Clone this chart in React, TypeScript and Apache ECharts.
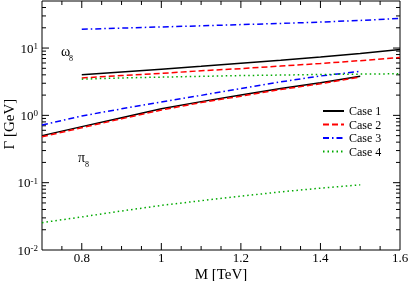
import React, { useEffect, useRef } from "react";
import * as echarts from "echarts";

const M_OMEGA = [0.8, 0.9, 1.0, 1.1, 1.2, 1.3, 1.4, 1.5, 1.6];
const M_PI = [0.7, 0.8, 0.9, 1.0, 1.1, 1.2, 1.3, 1.4, 1.5];

const case1Omega = [4.0, 4.4, 4.85, 5.35, 5.95, 6.6, 7.35, 8.3, 9.5];
const case2Omega = [3.6, 3.9, 4.2, 4.6, 4.95, 5.4, 5.9, 6.5, 7.25];
const case3Omega = [19.0, 19.8, 20.6, 21.4, 22.3, 23.2, 24.3, 25.7, 27.6];
const case4Omega = [3.45, 3.6, 3.7, 3.8, 3.9, 3.97, 4.05, 4.1, 4.15];

const case1Pi = [0.5, 0.68, 0.92, 1.25, 1.6, 2.0, 2.5, 3.05, 3.8];
const case2Pi = [0.48, 0.655, 0.89, 1.2, 1.55, 1.93, 2.42, 2.95, 3.7];
const case3Pi = [0.72, 0.98, 1.25, 1.58, 1.98, 2.5, 3.15, 3.85, 4.5];
const case4Pi = [0.0255, 0.031, 0.038, 0.046, 0.054, 0.063, 0.073, 0.083, 0.093];

const CASE_NAMES = ["Case 1", "Case 2", "Case 3", "Case 4"];
const X_TITLE = "M [TeV]";
const Y_TITLE = "Γ [GeV]";

const X_MIN = 0.7;
const X_MAX = 1.6;
const Y_MIN = 0.01;
const Y_MAX = 50;

const X_MAJOR_TICKS = [0.8, 1.0, 1.2, 1.4];
const X_MINOR_TICKS = [0.75, 0.85, 0.9, 0.95, 1.05, 1.1, 1.15, 1.25, 1.3, 1.35, 1.45, 1.5, 1.55];
const Y_MAJOR_TICKS = [0.1, 1, 10];
const Y_MINOR_TICKS = [
  0.02, 0.03, 0.04, 0.05, 0.06, 0.07, 0.08, 0.09,
  0.2, 0.3, 0.4, 0.5, 0.6, 0.7, 0.8, 0.9,
  2, 3, 4, 5, 6, 7, 8, 9,
  20, 30, 40,
];

const FONT = "Liberation Serif";

const pairs = (xs: number[], ys: number[]) => xs.map((x, i) => [x, ys[i]]);

export default function App() {
  const ref = useRef<HTMLDivElement>(null);

  useEffect(() => {
    if (!ref.current) return;
    const chart = echarts.init(ref.current, null, { renderer: "svg" });

    const styles = [
      { color: "#000000", type: "solid" as any },
      { color: "#ff0000", type: [6, 3] as any },
      { color: "#0000ff", type: [6, 3, 1.5, 3] as any },
      { color: "#00aa00", type: [1.5, 3] as any },
    ];
    const omegaData = [case1Omega, case2Omega, case3Omega, case4Omega];
    const piData = [case1Pi, case2Pi, case3Pi, case4Pi];

    const lineSeries: any[] = [];
    CASE_NAMES.forEach((name, i) => {
      const s = styles[i];
      lineSeries.push({
        type: "line",
        name,
        data: pairs(M_OMEGA, omegaData[i]),
        showSymbol: false,
        symbol: "none",
        lineStyle: { color: s.color, width: 1.5, type: s.type },
        itemStyle: { color: s.color },
        z: 3,
      });
      lineSeries.push({
        type: "line",
        name,
        data: pairs(M_PI, piData[i]),
        showSymbol: false,
        symbol: "none",
        lineStyle: { color: s.color, width: 1.5, type: s.type },
        itemStyle: { color: s.color },
        z: 3,
      });
    });

    const xTickData = [
      ...X_MAJOR_TICKS.map((v) => [v, Y_MIN, 7]),
      ...X_MINOR_TICKS.map((v) => [v, Y_MIN, 4]),
    ];
    const yTickData = [
      ...Y_MAJOR_TICKS.map((v) => [X_MIN, v, 7]),
      ...Y_MINOR_TICKS.map((v) => [X_MIN, v, 4]),
    ];

    const tickStyle = { stroke: "#000", lineWidth: 1 };

    const option: any = {
      animation: false,
      grid: {
        left: 42,
        right: 9,
        top: 1,
        bottom: 31,
        containLabel: false,
        outerBoundsMode: "none",
        show: true,
        borderColor: "#000",
        borderWidth: 1,
      },
      legend: {
        data: CASE_NAMES,
        orient: "vertical",
        left: 322,
        top: 105,
        itemWidth: 21,
        itemHeight: 14,
        itemGap: 1.5,
        padding: 0,
        itemStyle: { opacity: 0 },
        textStyle: { fontFamily: FONT, fontSize: 12, color: "#000" },
      },
      xAxis: {
        type: "value",
        min: X_MIN,
        max: X_MAX,
        interval: 0.1,
        axisLine: { show: false },
        axisTick: { show: false },
        splitLine: { show: false },
        axisLabel: {
          fontFamily: FONT,
          fontSize: 13,
          lineHeight: 13,
          color: "#000",
          margin: 1,
          formatter: (v: number) => {
            const k = Math.round(v * 10);
            if (k % 2 !== 0 || k < 8) return "";
            return String(k / 10);
          },
        },
      },
      yAxis: {
        type: "log",
        logBase: 10,
        min: Y_MIN,
        max: Y_MAX,
        axisLine: { show: false },
        axisTick: { show: false },
        splitLine: { show: false },
        axisLabel: {
          fontFamily: FONT,
          color: "#000",
          margin: 4,
          formatter: (v: number) => {
            const l = Math.log10(v);
            const e = Math.round(l);
            if (Math.abs(l - e) > 1e-6) return "";
            return `{b|10}{s|${e}}`;
          },
          rich: {
            b: { fontFamily: FONT, fontSize: 13, lineHeight: 13, verticalAlign: "bottom", color: "#000" },
            s: { fontFamily: FONT, fontSize: 9, lineHeight: 9, verticalAlign: "top", padding: [0, 0, 6, 0], color: "#000" },
          },
        },
      },
      graphic: [
        {
          type: "text",
          x: 221,
          y: 273.5,
          style: { text: X_TITLE, fontFamily: FONT, fontSize: 15, lineHeight: 15, fill: "#000", textAlign: "center", textVerticalAlign: "middle" },
        },
        {
          type: "text",
          x: 9,
          y: 124,
          rotation: Math.PI / 2,
          style: { text: Y_TITLE, fontFamily: FONT, fontSize: 15, fill: "#000", textAlign: "center", textVerticalAlign: "middle" },
        },
        {
          type: "text",
          x: 61,
          y: 51,
          style: { text: "ω", fontFamily: FONT, fontSize: 14, fill: "#000", textVerticalAlign: "middle" },
        },
        {
          type: "text",
          x: 69,
          y: 58.7,
          style: { text: "8", fontFamily: FONT, fontSize: 8, fill: "#000", textVerticalAlign: "middle" },
        },
        {
          type: "text",
          x: 78,
          y: 157,
          style: { text: "π", fontFamily: FONT, fontSize: 14, fill: "#000", textVerticalAlign: "middle" },
        },
        {
          type: "text",
          x: 85,
          y: 164,
          style: { text: "8", fontFamily: FONT, fontSize: 8, fill: "#000", textVerticalAlign: "middle" },
        },
      ],
      series: [
        ...lineSeries,
        {
          type: "custom",
          silent: true,
          data: xTickData,
          encode: { x: 0, y: 1 },
          renderItem: (params: any, api: any) => {
            const v = api.value(0);
            const len = api.value(2);
            const pb = api.coord([v, Y_MIN]);
            const pt = api.coord([v, Y_MAX]);
            return {
              type: "group",
              children: [
                { type: "line", shape: { x1: pb[0], y1: pb[1], x2: pb[0], y2: pb[1] - len }, style: tickStyle },
                { type: "line", shape: { x1: pt[0], y1: pt[1], x2: pt[0], y2: pt[1] + len }, style: tickStyle },
              ],
            };
          },
          z: 2,
        },
        {
          type: "custom",
          silent: true,
          data: yTickData,
          encode: { x: 0, y: 1 },
          renderItem: (params: any, api: any) => {
            const v = api.value(1);
            const len = api.value(2);
            const pl = api.coord([X_MIN, v]);
            const pr = api.coord([X_MAX, v]);
            return {
              type: "group",
              children: [
                { type: "line", shape: { x1: pl[0], y1: pl[1], x2: pl[0] + len, y2: pl[1] }, style: tickStyle },
                { type: "line", shape: { x1: pr[0], y1: pr[1], x2: pr[0] - len, y2: pr[1] }, style: tickStyle },
              ],
            };
          },
          z: 2,
        },
      ],
    };

    chart.setOption(option);
    return () => {
      chart.dispose();
    };
  }, []);

  return (
    <div
      ref={ref}
      style={{ position: "fixed", left: 0, top: 0, width: 409, height: 281 }}
    />
  );
}
